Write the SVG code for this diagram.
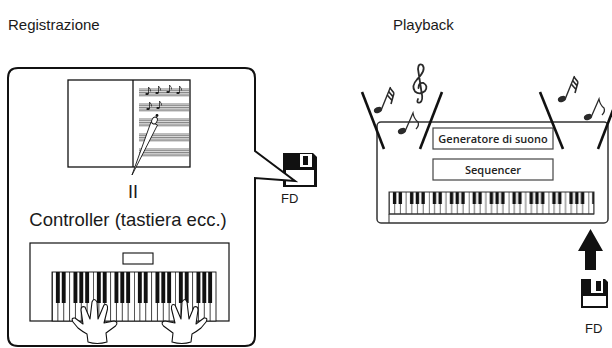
<svg xmlns="http://www.w3.org/2000/svg" width="612" height="348" viewBox="0 0 612 348">
  <style>
    .lbl { font-family: "Liberation Sans", Arial, sans-serif; fill: #1a1a1a; }
    .box { font-family: "Open Sans", "Liberation Sans", sans-serif; font-weight: 600; font-size: 11px; fill: #222; text-anchor: middle; }
    .spk { stroke: #111; stroke-width: 2.6; stroke-linecap: butt; }
  </style>
  <defs>
    <!-- one octave of keys for the controller keyboard -->
    <pattern id="octaveL" patternUnits="userSpaceOnUse" x="52" y="272" width="41" height="49">
      <rect width="41" height="49" fill="#fff"/>
      <path d="M0.4,0V49M5.86,0V49M11.71,0V49M17.57,0V49M23.43,0V49M29.29,0V49M35.14,0V49" stroke="#111" stroke-width="0.8"/>
      <rect x="3.9" y="0" width="3.9" height="31" fill="#111"/>
      <rect x="9.76" y="0" width="3.9" height="31" fill="#111"/>
      <rect x="21.48" y="0" width="3.9" height="31" fill="#111"/>
      <rect x="27.34" y="0" width="3.9" height="31" fill="#111"/>
      <rect x="33.19" y="0" width="3.9" height="31" fill="#111"/>
    </pattern>
    <!-- one octave of keys for the instrument keyboard -->
    <pattern id="octaveR" patternUnits="userSpaceOnUse" x="389" y="192" width="39.86" height="22">
      <rect width="39.86" height="22" fill="#fff"/>
      <path d="M0.4,0V22M5.69,0V22M11.39,0V22M17.08,0V22M22.78,0V22M28.47,0V22M34.17,0V22" stroke="#555" stroke-width="0.9"/>
      <rect x="3.9" y="0" width="3.4" height="12" fill="#111"/>
      <rect x="9.6" y="0" width="3.4" height="12" fill="#111"/>
      <rect x="21" y="0" width="3.4" height="12" fill="#111"/>
      <rect x="26.7" y="0" width="3.4" height="12" fill="#111"/>
      <rect x="32.4" y="0" width="3.4" height="12" fill="#111"/>
    </pattern>
    <g id="staff">
      <path d="M0,0H50M0,1.7H50M0,3.4H50M0,5.1H50M0,6.8H50" stroke="#222" stroke-width="0.6" fill="none"/>
    </g>
    <g id="tinyNote">
      <ellipse cx="0" cy="0" rx="1.7" ry="1.1" fill="#111"/>
      <path d="M1.5,0V-7Q4,-4.5 3.6,-2.5" fill="none" stroke="#111" stroke-width="0.7"/>
    </g>
    <!-- eighth note, slanted -->
    <g id="note8">
      <ellipse cx="0" cy="0" rx="4.3" ry="2.9" transform="rotate(-25)" fill="#2a2a2a"/>
      <path d="M3.6,-1 L11,-18 Q12,-12 16,-9 Q17.5,-5.5 14,-2" fill="none" stroke="#2a2a2a" stroke-width="1.3"/>
    </g>
    <!-- note with three flags, slanted -->
    <g id="note32">
      <ellipse cx="0" cy="0" rx="4.3" ry="2.9" transform="rotate(-25)" fill="#2a2a2a"/>
      <path d="M3.6,-1 L12.5,-23" fill="none" stroke="#2a2a2a" stroke-width="1.4"/>
      <path d="M12,-22 L16,-17 M10.6,-18.5 L14.8,-13.5 M9.2,-15 L13.6,-10 M16,-17 L13,-6" fill="none" stroke="#2a2a2a" stroke-width="1.6"/>
    </g>
    <!-- gloved hand, wrist at origin, thumb on the right -->
    <path id="hand" d="M-9,0 L-10,-8 Q-14,-10 -19,-14 L-24,-20 Q-26.5,-24.5 -22,-24 L-14,-18 L-16,-32 Q-16,-36.5 -12,-35 L-7,-23 L-5,-40 Q-3,-45 0,-40 L1,-23 L7,-37 Q11,-39 10.5,-33 L7,-19 L17,-21 Q22,-20 18.5,-16 L9,-9 L10,0 Q0,3 -9,0 Z" fill="#fff" stroke="#111" stroke-width="1.1" stroke-linejoin="round"/>
  </defs>

  <!-- headings -->
  <text class="lbl" x="8" y="30" font-size="15">Registrazione</text>
  <text class="lbl" x="393" y="30" font-size="15">Playback</text>

  <!-- floppy disk beside the recording panel -->
  <g id="fd-left">
    <path d="M283,153 H313 L317,157 V187 H283 Z" fill="#111"/>
    <rect x="300" y="154" width="12" height="13" fill="#fff"/>
    <rect x="303" y="156" width="5" height="9" fill="#111"/>
    <rect x="286" y="170" width="28" height="15" fill="#fff"/>
    <text class="lbl" x="281" y="203" font-size="13">FD</text>
  </g>

  <!-- recording panel: callout frame with tail pointing to the disk -->
  <g id="recording">
    <path d="M18,68 H245 Q255,68 255,78 V151 L295,181 L255,178 V336 Q255,346 245,346 H18 Q8,346 8,336 V78 Q8,68 18,68 Z" fill="#fff" stroke="#111" stroke-width="2" stroke-linejoin="miter"/>

    <!-- score book -->
    <g id="score">
      <rect x="68" y="80" width="122" height="87" fill="#fff" stroke="#111" stroke-width="1.3"/>
      <line x1="133" y1="80" x2="133" y2="167" stroke="#111" stroke-width="1.3"/>
      <use href="#staff" x="139" y="89"/>
      <use href="#staff" x="139" y="104"/>
      <use href="#staff" x="139" y="119"/>
      <use href="#staff" x="139" y="134"/>
      <use href="#staff" x="139" y="149"/>
      <use href="#tinyNote" x="147" y="94"/>
      <use href="#tinyNote" x="157" y="93"/>
      <use href="#tinyNote" x="168" y="92"/>
      <use href="#tinyNote" x="178" y="93"/>
      <use href="#tinyNote" x="148" y="109"/>
      <use href="#tinyNote" x="158" y="108"/>
      <!-- pen -->
      <polygon points="132,175 151,122 157.5,125" fill="#fff" stroke="#111" stroke-width="0.9" stroke-linejoin="round"/>
      <ellipse cx="154.5" cy="120.5" rx="2.6" ry="3.6" transform="rotate(25 154.5 120.5)" fill="#fff" stroke="#111" stroke-width="0.9"/>
      <circle cx="157" cy="115.5" r="1.4" fill="#111"/>
    </g>

    <text class="lbl" x="133" y="198" font-size="18" text-anchor="middle">II</text>
    <text class="lbl" x="128" y="226" font-size="18.5" text-anchor="middle">Controller (tastiera ecc.)</text>

    <!-- controller keyboard -->
    <g id="controller">
      <rect x="30" y="243" width="199" height="78" fill="#fff" stroke="#111" stroke-width="1.2"/>
      <rect x="123" y="253" width="30" height="11" fill="#fff" stroke="#111" stroke-width="1.1"/>
      <rect x="52" y="272" width="164" height="49" fill="url(#octaveL)" stroke="#111" stroke-width="0.9"/>
      <use href="#hand" x="97" y="342"/>
      <use href="#hand" transform="translate(182 342) scale(-1 1)"/>
    </g>
  </g>

  <!-- playback instrument -->
  <g id="instrument">
    <rect x="377" y="122" width="231" height="101" rx="4" fill="#fff" stroke="#333" stroke-width="1.5"/>
    <g id="tone-generator">
      <rect x="433" y="128" width="120" height="21" fill="#fff" stroke="#444" stroke-width="1.2"/>
      <text class="box" x="493" y="143">Generatore di suono</text>
    </g>
    <g id="sequencer">
      <rect x="433" y="159" width="120" height="21" fill="#fff" stroke="#444" stroke-width="1.2"/>
      <text class="box" x="493" y="174">Sequencer</text>
    </g>
    <g id="keyboard">
      <rect x="389" y="192" width="205" height="22" fill="url(#octaveR)" stroke="#333" stroke-width="1"/>
      <line x1="389" y1="214" x2="389" y2="223" stroke="#333" stroke-width="1"/>
      <line x1="389" y1="214" x2="594" y2="214" stroke="#333" stroke-width="1"/>
    </g>
  </g>

  <!-- sound spreading from the speakers -->
  <g id="sound">
    <line class="spk" x1="362" y1="92" x2="384" y2="149"/>
    <line class="spk" x1="442" y1="92" x2="420" y2="149"/>
    <line class="spk" x1="540" y1="92" x2="563" y2="149"/>
    <line class="spk" x1="613" y1="110" x2="598" y2="149"/>
    <use href="#note32" x="378" y="110"/>
    <use href="#note8" x="402" y="131"/>
    <use href="#note32" x="562" y="99"/>
    <use href="#note8" x="588" y="117"/>
    <!-- treble clef -->
    <path d="M418,99 Q416,103.5 420,102.5 Q423.5,100.5 421.5,92 L418,69 Q418.5,62.5 422.5,65 Q426.5,70 417,79.5 Q411,86 415,91.5 Q419.5,95.5 425,91 Q428.5,86 423.5,83 Q418.5,82 418.5,88" fill="none" stroke="#2a2a2a" stroke-width="1.8" stroke-linecap="round"/>
  </g>

  <!-- loading arrow -->
  <g id="connectors">
    <polygon points="590.5,229 603,251 596,251 596,270 585,270 585,251 578,251" fill="#111"/>
  </g>

  <!-- floppy disk feeding the instrument -->
  <g id="fd-right">
    <path d="M581,279 H605 L608,282 V308 H581 Z" fill="#111"/>
    <rect x="591" y="279" width="12" height="14" fill="#fff"/>
    <rect x="596" y="281" width="5" height="10" fill="#111"/>
    <rect x="583" y="296" width="23" height="10" fill="#fff"/>
    <text class="lbl" x="585" y="333" font-size="13">FD</text>
  </g>
</svg>
